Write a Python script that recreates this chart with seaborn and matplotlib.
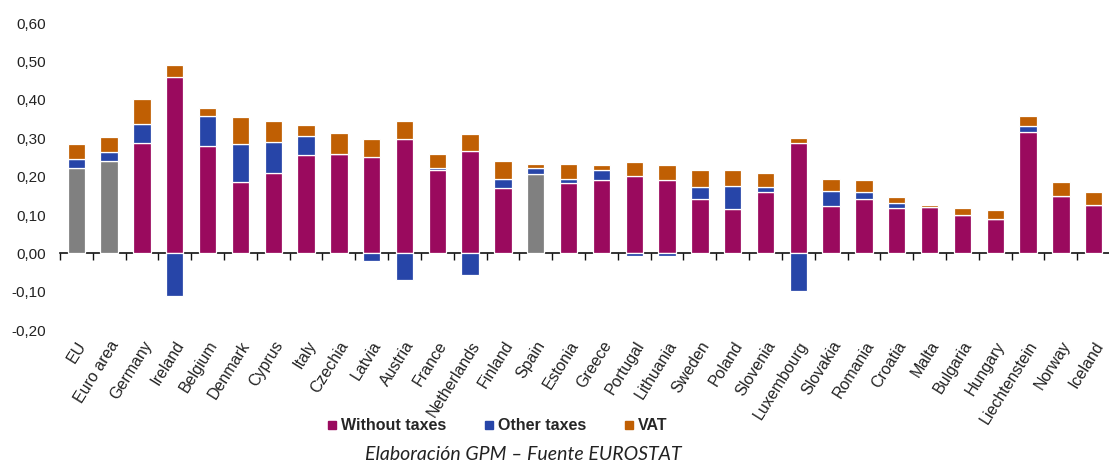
import matplotlib
matplotlib.use("Agg")
import matplotlib.pyplot as plt
from matplotlib.lines import Line2D
import numpy as np
import pandas as pd
import seaborn as sns

countries = ["EU", "Euro area", "Germany", "Ireland", "Belgium", "Denmark", "Cyprus",
             "Italy", "Czechia", "Latvia", "Austria", "France", "Netherlands", "Finland",
             "Spain", "Estonia", "Greece", "Portugal", "Lithuania", "Sweden", "Poland",
             "Slovenia", "Luxembourg", "Slovakia", "Romania", "Croatia", "Malta",
             "Bulgaria", "Hungary", "Liechtenstein", "Norway", "Iceland"]

without_taxes = [0.222, 0.242, 0.288, 0.460, 0.280, 0.185, 0.210, 0.257, 0.259, 0.250,
                 0.299, 0.216, 0.266, 0.171, 0.207, 0.183, 0.190, 0.201, 0.191, 0.141,
                 0.116, 0.161, 0.287, 0.123, 0.143, 0.117, 0.120, 0.099, 0.089, 0.317,
                 0.150, 0.126]
other_taxes = [0.024, 0.021, 0.050, -0.110, 0.077, 0.100, 0.080, 0.048, 0.000, -0.019,
               -0.070, 0.006, -0.057, 0.022, 0.015, 0.011, 0.027, -0.006, -0.006, 0.033,
               0.059, 0.012, -0.097, 0.039, 0.017, 0.013, 0.000, 0.000, 0.000, 0.016,
               0.000, 0.000]
vat = [0.038, 0.040, 0.064, 0.030, 0.021, 0.070, 0.054, 0.029, 0.056, 0.047,
       0.045, 0.037, 0.044, 0.047, 0.012, 0.040, 0.014, 0.036, 0.039, 0.043,
       0.041, 0.037, 0.014, 0.032, 0.030, 0.018, 0.006, 0.020, 0.024, 0.026,
       0.036, 0.034]
aggregates = ["EU", "Euro area", "Spain"]

MAGENTA = "#9A0A5E"
BLUE = "#2745A8"
ORANGE = "#C05F03"
GREY = "#808080"

df = pd.DataFrame({"country": countries, "without": without_taxes,
                   "other": other_taxes, "vat": vat})
df["other_base"] = np.where(df["other"] >= 0, df["without"], 0.0)
df["vat_base"] = df["without"] + df["other"].clip(lower=0)

sns.set_theme(style="white")
plt.rcParams["font.family"] = ["Liberation Sans", "DejaVu Sans"]

fig = plt.figure(figsize=(11.09, 4.63), dpi=100)
ax = fig.add_axes([0.054, 0.287, 0.947, 0.663])

bar_kw = dict(width=0.53, edgecolor="white", linewidth=0.9, saturation=1,
              legend=False, ax=ax)
base_colors = [GREY if c in aggregates else MAGENTA for c in countries]
sns.barplot(data=df, x="country", y="without", hue="country",
            palette=base_colors, **bar_kw)
sns.barplot(data=df, x="country", y="other", bottom=df["other_base"],
            color=BLUE, **bar_kw)
sns.barplot(data=df, x="country", y="vat", bottom=df["vat_base"],
            color=ORANGE, **bar_kw)

ax.set_xlim(-0.5, len(countries) - 0.5)
ax.set_ylim(-0.2, 0.6)
ax.set_yticks(np.arange(-0.2, 0.61, 0.1))
ax.set_yticklabels([f"{v:.2f}".replace(".", ",") for v in np.arange(-0.2, 0.61, 0.1)],
                   fontsize=11, color="#222222")
ax.tick_params(axis="y", length=0, pad=10)
ax.set_xlabel("")
ax.set_ylabel("")
for s in ax.spines.values():
    s.set_visible(False)

ax.set_xticks(range(len(countries)))
ax.set_xticklabels(countries, rotation=58, ha="right", va="top",
                   rotation_mode="anchor", fontsize=11.5, color="#222222")
ax.tick_params(axis="x", length=0, pad=6)

# zero line with category separators
zero_axis = ax.secondary_xaxis(0.25)
zero_axis.set_xticks(np.arange(-0.5, len(countries), 1.0))
zero_axis.set_xticklabels([])
zero_axis.tick_params(length=5, width=1, direction="out", color="#111111")
zero_axis.spines["bottom"].set_color("#111111")
zero_axis.spines["bottom"].set_linewidth(1.2)

handles = [Line2D([], [], marker="s", linestyle="", markersize=6,
                  markerfacecolor=c, markeredgecolor=c, label=l)
           for c, l in [(MAGENTA, "Without taxes"), (BLUE, "Other taxes"), (ORANGE, "VAT")]]
fig.legend(handles=handles, loc="center", bbox_to_anchor=(0.447, 0.080), ncol=3,
           frameon=False, prop={"weight": "bold", "size": 11.5},
           handletextpad=0.05, columnspacing=2.2, handlelength=1.0)

fig.text(0.472, 0.018, "Elaboración GPM – Fuente EUROSTAT", ha="center", va="center",
         fontsize=14, style="italic", family=["Lato", "DejaVu Sans"], color="#222222")

fig.savefig("out.png", dpi=100)
